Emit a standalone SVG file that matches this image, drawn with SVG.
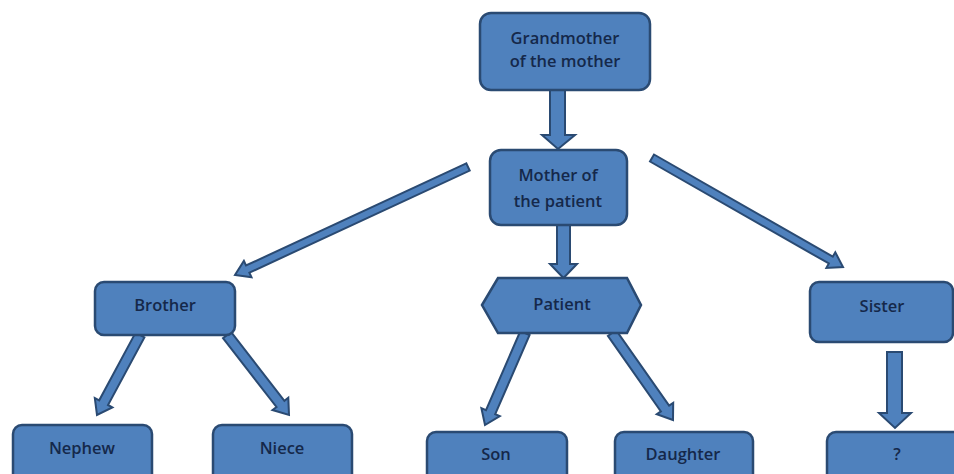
<svg xmlns="http://www.w3.org/2000/svg" width="954" height="474" viewBox="0 0 954 474">
<style>
.box{fill:#4f81bd;stroke:#2a4a72;stroke-width:2.5}
.arr{fill:#4f81bd;stroke:#2a4a72;stroke-width:2;stroke-linejoin:miter}
.t{font-family:"Open Sans","Liberation Sans",sans-serif;font-size:16.5px;font-weight:600;fill:#15284a;text-anchor:middle;dominant-baseline:central}
</style>
<rect width="954" height="474" fill="#ffffff"/>
<g id="connectors">
<polygon class="arr" points="550,90 565,90 565,135 575,135 558,149 542,135 550,135"/>
<polygon class="arr" points="557,225 570,225 570,264 577,264 563.5,278 550,264 557,264"/>
<polygon class="arr" points="466.3,163.4 246.0,265.5 243.9,260.9 235,275 251.5,277.3 249.4,272.7 469.7,170.6"/>
<polygon class="arr" points="650.0,161.5 828.8,263.5 826.4,267.9 843,267 835.3,252.3 832.8,256.6 654.0,154.5"/>
<polygon class="arr" points="135.6,332.6 99.2,400.3 94.8,398.0 97,415 112.4,407.4 108.0,405.0 144.4,337.4"/>
<polygon class="arr" points="223.0,338.1 276.5,407.0 272.5,410.0 289,415 288.3,397.8 284.4,400.8 231.0,331.9"/>
<polygon class="arr" points="520.4,331.0 486.0,410.2 481.4,408.2 485,425 499.8,416.2 495.2,414.2 529.6,335.0"/>
<polygon class="arr" points="607.9,335.9 660.9,411.4 656.8,414.2 673,420 673.2,402.8 669.1,405.6 616.1,330.1"/>
<polygon class="arr" points="887,352 902,352 902,413 911,413 895,428 879,413 887,413"/>
</g>
<g id="grandmother">
<rect class="box" x="480" y="13" width="170" height="77" rx="11"/>
<text class="t" x="565" y="37">Grandmother</text>
<text class="t" x="565" y="60">of the mother</text>
</g>
<g id="mother">
<rect class="box" x="490" y="150" width="137" height="75" rx="11"/>
<text class="t" x="558" y="174">Mother of</text>
<text class="t" x="558" y="200">the patient</text>
</g>
<g id="brother">
<rect class="box" x="95" y="282" width="140" height="53" rx="9"/>
<text class="t" x="165" y="304">Brother</text>
</g>
<g id="patient">
<polygon class="box" points="482,305 498,278 627,278 641,305 627,333 498,333"/>
<text class="t" x="562" y="303">Patient</text>
</g>
<g id="sister">
<rect class="box" x="810" y="282" width="143" height="60" rx="9"/>
<text class="t" x="882" y="305">Sister</text>
</g>
<g id="nephew">
<rect class="box" x="13" y="425" width="139" height="60" rx="9"/>
<text class="t" x="82" y="447">Nephew</text>
</g>
<g id="niece">
<rect class="box" x="213" y="425" width="139" height="60" rx="9"/>
<text class="t" x="282" y="447">Niece</text>
</g>
<g id="son">
<rect class="box" x="427" y="432" width="140" height="60" rx="9"/>
<text class="t" x="496" y="453">Son</text>
</g>
<g id="daughter">
<rect class="box" x="615" y="432" width="138" height="60" rx="9"/>
<text class="t" x="683" y="453">Daughter</text>
</g>
<g id="unknown">
<rect class="box" x="827" y="432" width="140" height="60" rx="9"/>
<text class="t" x="897" y="453">?</text>
</g>
</svg>
